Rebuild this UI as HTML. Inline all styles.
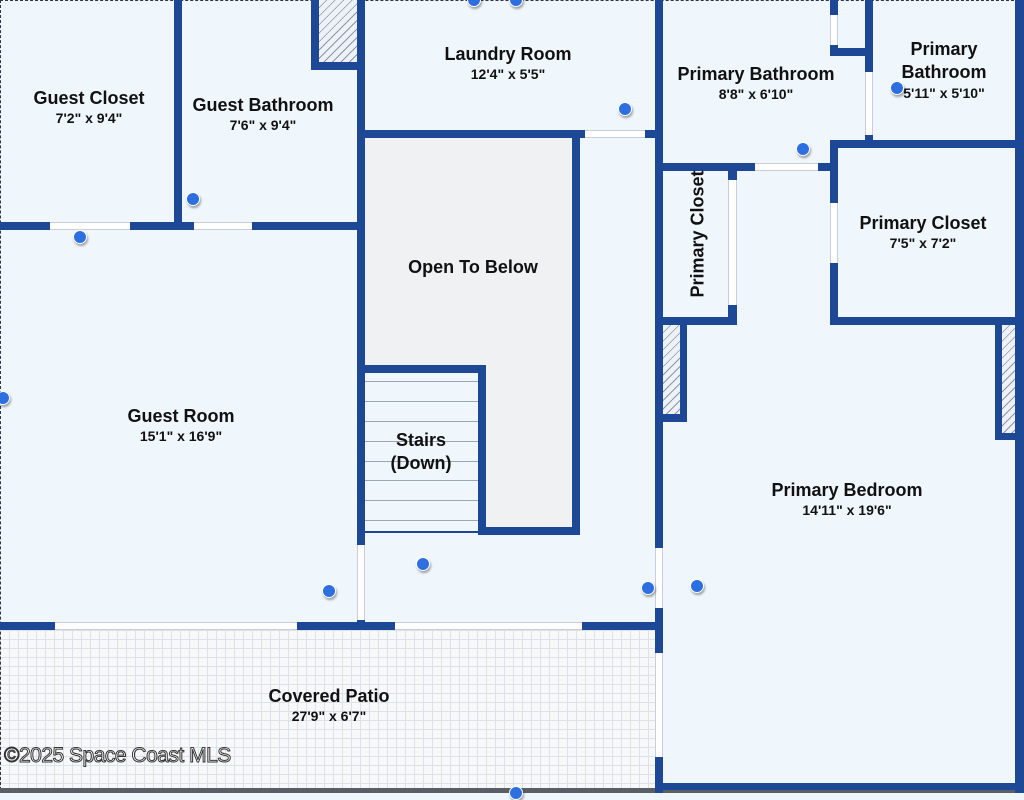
<!DOCTYPE html><html><head><style>
body{margin:0;width:1024px;height:793px;overflow:hidden;background:#eff6fc;position:relative;font-family:"Liberation Sans",sans-serif}
div{position:absolute;box-sizing:border-box}
.w{background:#1c4896}
.g{background:#fff;border-top:1px solid #ccd;border-bottom:1px solid #ccd}
.gv{background:#fff;border-left:1px solid #ccd;border-right:1px solid #ccd}
.h{background:repeating-linear-gradient(135deg,#eef2f6 0 5px,#8a97a8 5px 6px)}
.d{width:14px;height:14px;border-radius:50%;background:#2d6fe0;border:1px solid #fff;box-shadow:1px 2px 2px rgba(0,0,0,.35);margin:-7px 0 0 -7px}
.t{text-align:center;font-weight:bold;color:#111;font-size:18px;line-height:21px;transform:translateX(-50%);white-space:nowrap}
.t small{display:block;font-size:14px;line-height:18px}
.s{position:absolute;left:365px;width:113px;height:1px;background:#9aa6b6}
</style></head><body>
<div style="left:0;top:630px;width:655px;height:158px;background-color:#f6f8fa;background-image:linear-gradient(#dde2e8 1px,transparent 1px),linear-gradient(90deg,#dde2e8 1px,transparent 1px);background-size:9px 9px"></div>
<div style="left:365px;top:138px;width:208px;height:227px;background:#f0f1f3"></div>
<div style="left:486px;top:365px;width:87px;height:162px;background:#f0f1f3"></div>
<div style="left:0;top:0;width:1024px;height:2px;border-top:1px dashed #334"></div>
<div style="left:0;top:0;width:2px;height:790px;border-left:1px dashed #334"></div>
<div style="left:0;top:788px;width:1024px;height:5px;background:#5a5f66"></div>
<div class="w" style="left:174px;top:0;width:8px;height:228px"></div>
<div class="w" style="left:0;top:222px;width:362px;height:8px"></div>
<div class="g" style="left:50px;top:222px;width:80px;height:8px"></div>
<div class="g" style="left:194px;top:222px;width:58px;height:8px"></div>
<div class="h" style="left:319px;top:0;width:38px;height:62px"></div>
<div class="w" style="left:311px;top:0;width:8px;height:70px"></div>
<div class="w" style="left:311px;top:62px;width:48px;height:8px"></div>
<div class="w" style="left:357px;top:0;width:8px;height:630px"></div>
<div class="gv" style="left:357px;top:545px;width:8px;height:75px"></div>
<div class="w" style="left:365px;top:130px;width:292px;height:8px"></div>
<div class="g" style="left:585px;top:130px;width:60px;height:8px"></div>
<div class="w" style="left:572px;top:138px;width:8px;height:397px"></div>
<div class="w" style="left:365px;top:365px;width:121px;height:8px"></div>
<div class="w" style="left:478px;top:365px;width:8px;height:170px"></div>
<div class="w" style="left:478px;top:527px;width:102px;height:8px"></div>
<div class="s" style="top:381px"></div><div class="s" style="top:401px"></div><div class="s" style="top:421px"></div><div class="s" style="top:441px"></div><div class="s" style="top:461px"></div><div class="s" style="top:480px"></div><div class="s" style="top:500px"></div><div class="s" style="top:520px"></div>
<div class="s" style="top:531px;height:2px;background:#1c4896"></div>
<div class="w" style="left:0;top:622px;width:663px;height:8px"></div>
<div class="g" style="left:55px;top:622px;width:242px;height:8px"></div>
<div class="g" style="left:395px;top:622px;width:187px;height:8px"></div>
<div class="w" style="left:655px;top:0;width:8px;height:793px"></div>
<div class="gv" style="left:655px;top:548px;width:8px;height:60px"></div>
<div class="gv" style="left:655px;top:653px;width:8px;height:104px"></div>
<div class="w" style="left:663px;top:163px;width:172px;height:8px"></div>
<div class="g" style="left:755px;top:163px;width:63px;height:8px"></div>
<div class="w" style="left:830px;top:0;width:8px;height:56px"></div>
<div class="gv" style="left:830px;top:15px;width:8px;height:30px"></div>
<div class="w" style="left:830px;top:48px;width:40px;height:8px"></div>
<div class="w" style="left:865px;top:0;width:8px;height:148px"></div>
<div class="gv" style="left:865px;top:72px;width:8px;height:63px"></div>
<div class="w" style="left:830px;top:140px;width:194px;height:8px"></div>
<div class="w" style="left:830px;top:140px;width:8px;height:185px"></div>
<div class="gv" style="left:830px;top:203px;width:8px;height:60px"></div>
<div class="w" style="left:830px;top:317px;width:194px;height:8px"></div>
<div class="w" style="left:728px;top:171px;width:9px;height:154px"></div>
<div class="gv" style="left:728px;top:180px;width:9px;height:125px"></div>
<div class="w" style="left:663px;top:317px;width:74px;height:8px"></div>
<div class="h" style="left:663px;top:325px;width:17px;height:90px"></div>
<div class="w" style="left:680px;top:325px;width:7px;height:97px"></div>
<div class="w" style="left:663px;top:414px;width:24px;height:8px"></div>
<div class="h" style="left:1002px;top:325px;width:13px;height:110px"></div>
<div class="w" style="left:995px;top:325px;width:7px;height:115px"></div>
<div class="w" style="left:995px;top:433px;width:20px;height:7px"></div>
<div class="w" style="left:1015px;top:0;width:9px;height:793px"></div>
<div class="w" style="left:655px;top:783px;width:369px;height:7px"></div>
<div class="t" style="left:89px;top:88px">Guest Closet<small>7'2" x 9'4"</small></div>
<div class="t" style="left:263px;top:95px">Guest Bathroom<small>7'6" x 9'4"</small></div>
<div class="t" style="left:508px;top:44px">Laundry Room<small>12'4" x 5'5"</small></div>
<div class="t" style="left:473px;top:257px">Open To Below</div>
<div class="t" style="left:181px;top:406px">Guest Room<small>15'1" x 16'9"</small></div>
<div class="t" style="left:421px;top:429px;line-height:23px">Stairs<br>(Down)</div>
<div class="t" style="left:329px;top:686px">Covered Patio<small>27'9" x 6'7"</small></div>
<div class="t" style="left:756px;top:64px">Primary Bathroom<small>8'8" x 6'10"</small></div>
<div class="t" style="left:944px;top:38px;line-height:23px">Primary<br>Bathroom<small>5'11" x 5'10"</small></div>
<div class="t" style="left:923px;top:213px">Primary Closet<small>7'5" x 7'2"</small></div>
<div class="t" style="left:847px;top:480px">Primary Bedroom<small>14'11" x 19'6"</small></div>
<div class="t" style="left:698px;top:234px;transform:translate(-50%,-50%) rotate(-90deg)">Primary Closet</div>
<div style="left:4px;top:744px;font-size:21px;color:#fff;-webkit-text-stroke:1px #333;letter-spacing:-0.5px">©2025 Space Coast MLS</div>
<div class="d" style="left:80px;top:237px"></div><div class="d" style="left:193px;top:199px"></div>
<div class="d" style="left:329px;top:591px"></div><div class="d" style="left:423px;top:564px"></div>
<div class="d" style="left:648px;top:588px"></div><div class="d" style="left:697px;top:586px"></div>
<div class="d" style="left:625px;top:109px"></div><div class="d" style="left:803px;top:149px"></div>
<div class="d" style="left:897px;top:88px"></div><div class="d" style="left:474px;top:0"></div>
<div class="d" style="left:516px;top:0"></div><div class="d" style="left:3px;top:398px"></div>
<div class="d" style="left:516px;top:793px"></div>
</body></html>
